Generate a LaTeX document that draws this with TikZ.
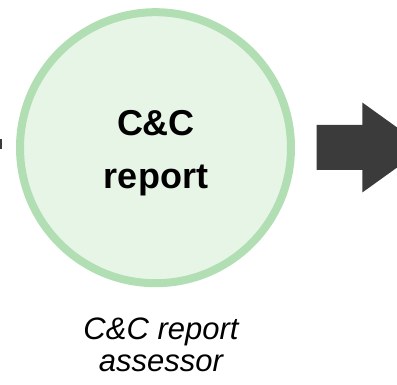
\documentclass[tikz,border=0pt]{standalone}
\usepackage{fontspec}
\setmainfont{Liberation Sans}
\definecolor{procfill}{HTML}{E7F5E7}
\definecolor{procline}{HTML}{B1DFB3}
\definecolor{flowdark}{HTML}{3B3B3B}
\begin{document}
\begin{tikzpicture}[x=1pt,y=-1pt,
  process/.style={circle,draw=procline,fill=procfill,line width=8pt,
    minimum size=271pt,inner sep=0pt},
  proclabel/.style={font=\fontsize{36}{53}\selectfont\bfseries,align=center},
  rolelabel/.style={font=\fontsize{31}{32}\selectfont\itshape,align=center},
  flowarrow/.style={fill=flowdark,draw=none}]
  \useasboundingbox (0,0) rectangle (397,385);
  \clip (0,0) rectangle (397,385);
  % incoming flow, only its tip is visible at the left edge
  \fill[flowdark] (-4,139) rectangle (1.5,149);
  % the process step
  \node[process] (step) at (155.5,147.7) {};
  % base anchor of a multi-line node sits on its last line
  \node[proclabel,anchor=base] (title) at (156,189) {C\&C\\report};
  \node[rolelabel,anchor=base] (role) at (161,371) {C\&C report\\assessor};
  % outgoing block arrow
  \path[flowarrow] (316.7,125) -- (362.3,125) -- (362.3,102.5) -- (425,147.5)
    -- (362.3,192.5) -- (362.3,170) -- (316.7,170) -- cycle;
\end{tikzpicture}
\end{document}
